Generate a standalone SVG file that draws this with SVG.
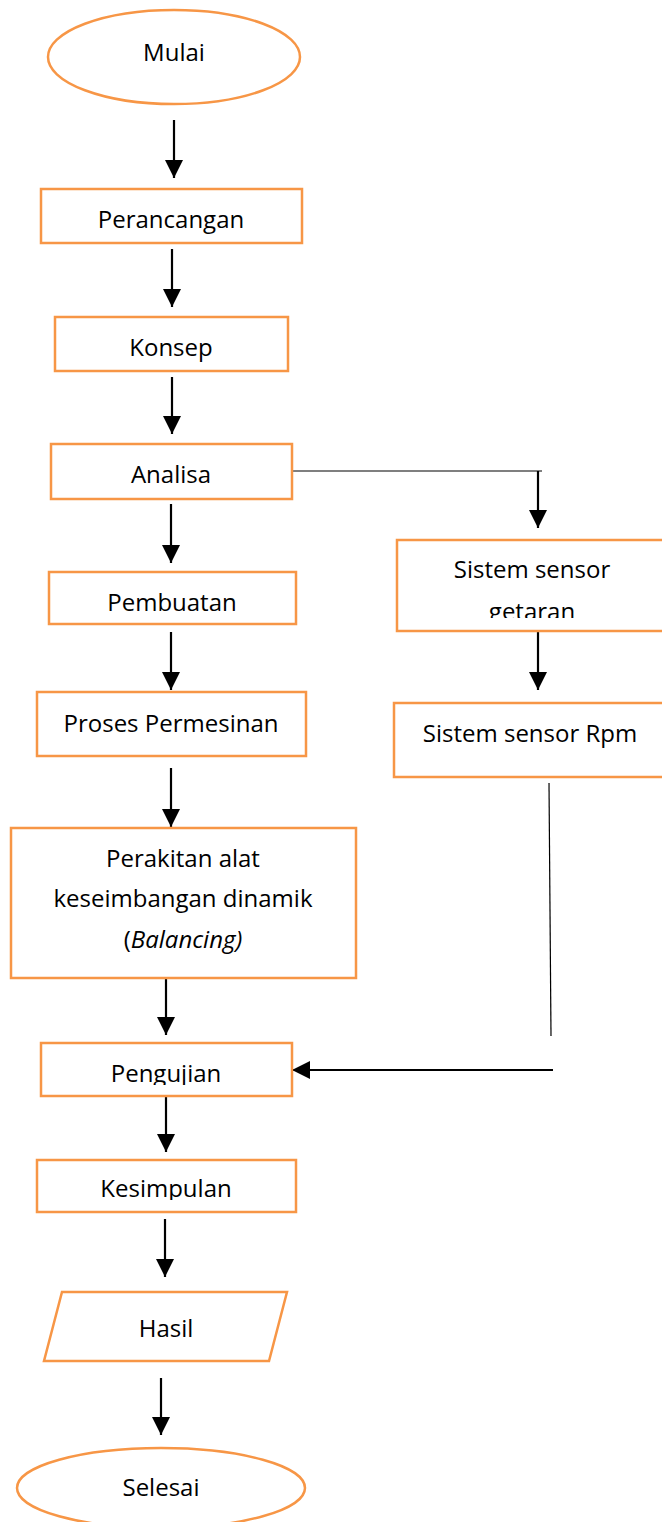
<svg xmlns="http://www.w3.org/2000/svg" width="662" height="1522" viewBox="0 0 662 1522">
<style>
.box{fill:#fff;stroke:#F79646;stroke-width:2.5}
.t{font-family:"Open Sans","Liberation Sans",Arial,sans-serif;font-size:24px;fill:#000;text-anchor:middle}
.a{stroke:#000;stroke-width:2.2;fill:none;marker-end:url(#ah)}
.thin{stroke:#000;stroke-width:1.2;fill:none}
</style>
<defs>
<marker id="ah" markerUnits="userSpaceOnUse" markerWidth="18" markerHeight="18" viewBox="0 0 16 16" refX="16" refY="8" orient="auto">
<path d="M0,0 L16,8 L0,16 Z" fill="#000"/>
</marker>
<clipPath id="cGet"><rect x="398" y="541" width="264" height="77"/></clipPath>
<clipPath id="cPen"><rect x="42" y="1044" width="249" height="41"/></clipPath>
<clipPath id="cKes"><rect x="38" y="1161" width="257" height="39"/></clipPath>
</defs>
<rect width="662" height="1522" fill="#fff"/>

<g id="connectors">
<line class="a" x1="174" y1="120" x2="174" y2="178"/>
<line class="a" x1="172" y1="249" x2="172" y2="307"/>
<line class="a" x1="172" y1="377" x2="172" y2="434"/>
<line class="thin" x1="289" y1="471" x2="542" y2="471"/>
<line class="a" x1="538" y1="471" x2="538" y2="528"/>
<line class="a" x1="171" y1="504" x2="171" y2="563"/>
<line class="a" x1="171" y1="632" x2="171" y2="690"/>
<line class="a" x1="538" y1="631" x2="538" y2="690"/>
<line class="a" x1="171" y1="768" x2="171" y2="827"/>
<line class="thin" x1="549" y1="783" x2="551" y2="1036"/>
<line class="a" x1="166" y1="978" x2="166" y2="1035"/>
<line class="a" x1="553" y1="1070" x2="292" y2="1070"/>
<line class="a" x1="166" y1="1094" x2="166" y2="1152"/>
<line class="a" x1="165" y1="1219" x2="165" y2="1277"/>
<line class="a" x1="161" y1="1378" x2="161" y2="1435"/>
</g>

<g id="mulai">
<ellipse class="box" cx="174" cy="57" rx="126" ry="47"/>
<text class="t" x="174" y="61">Mulai</text>
</g>
<g id="perancangan">
<rect class="box" x="41" y="189" width="261" height="54"/>
<text class="t" x="171" y="228">Perancangan</text>
</g>
<g id="konsep">
<rect class="box" x="55" y="317" width="233" height="54"/>
<text class="t" x="171" y="356">Konsep</text>
</g>
<g id="analisa">
<rect class="box" x="51" y="444" width="241" height="55"/>
<text class="t" x="171" y="483">Analisa</text>
</g>
<g id="pembuatan">
<rect class="box" x="49" y="572" width="247" height="52"/>
<text class="t" x="172" y="611">Pembuatan</text>
</g>
<g id="proses">
<rect class="box" x="37" y="692" width="269" height="64"/>
<text class="t" x="171" y="732">Proses Permesinan</text>
</g>
<g id="sensor-getaran">
<rect class="box" x="397" y="540" width="275" height="91"/>
<g clip-path="url(#cGet)">
<text class="t" x="532" y="578">Sistem sensor</text>
<text class="t" x="532" y="620">getaran</text>
</g>
</g>
<g id="sensor-rpm">
<rect class="box" x="394" y="703" width="278" height="74"/>
<text class="t" x="530" y="742">Sistem sensor Rpm</text>
</g>
<g id="perakitan">
<rect class="box" x="11" y="828" width="345" height="150"/>
<text class="t" x="183" y="867">Perakitan alat</text>
<text class="t" x="183" y="907">keseimbangan dinamik</text>
<text class="t" x="183" y="948">(<tspan font-style="italic">Balancing)</tspan></text>
</g>
<g id="pengujian">
<rect class="box" x="41" y="1043" width="251" height="53"/>
<text class="t" x="166" y="1082" clip-path="url(#cPen)">Pengujian</text>
</g>
<g id="kesimpulan">
<rect class="box" x="37" y="1160" width="259" height="52"/>
<text class="t" x="166" y="1197" clip-path="url(#cKes)">Kesimpulan</text>
</g>
<g id="hasil">
<polygon class="box" points="62,1292 287,1292 269,1361 44,1361"/>
<text class="t" x="166" y="1337">Hasil</text>
</g>
<g id="selesai">
<ellipse class="box" cx="161" cy="1488" rx="144" ry="40"/>
<text class="t" x="161" y="1496">Selesai</text>
</g>
</svg>
